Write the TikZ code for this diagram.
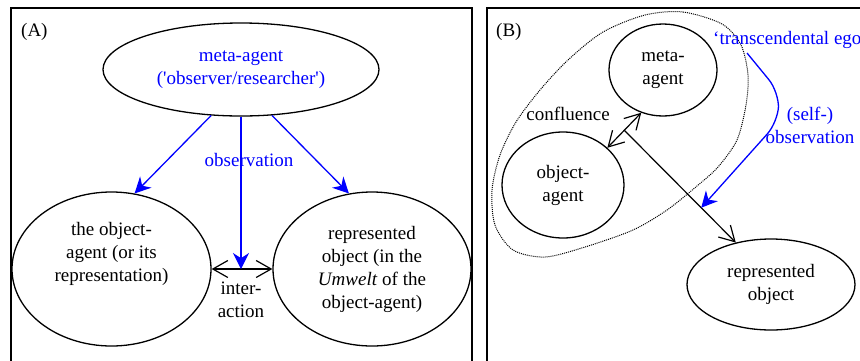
\documentclass[tikz,border=0pt]{standalone}
\usepackage{fontspec}
\setmainfont{Liberation Serif}
\usetikzlibrary{positioning,arrows.meta,shapes.geometric}

\begin{document}
\begin{tikzpicture}[x=1pt, y=-1pt, every node/.style={font=\fontsize{19}{23}\selectfont, align=center, inner sep=0pt},
  elipse/.style={draw, ellipse, line width=1.3pt},
  marco/.style={draw, line width=1.4pt},
  flecha/.style={-{Straight Barb[length=15pt,width=17pt]}, line width=1.2pt},
  doble/.style={{Straight Barb[length=15pt,width=17pt]}-{Straight Barb[length=15pt,width=17pt]}, line width=1.2pt},
  obs/.style={blue, line width=1.3pt, -{Stealth[length=16pt,width=16pt]}},
  borde/.style={line width=1pt, dash pattern=on 1pt off 1pt}]
\useasboundingbox (0,0) rectangle (860,360);
\clip (0,0) rectangle (860,360);
\draw[marco] (11,8) rectangle (472,375);
\draw[marco] (487,8) rectangle (880,375);
\node[anchor=west] (la) at (21,32) {(A)};
\node[anchor=west] (lb) at (496,32) {(B)};
\node[elipse, minimum width=276pt, minimum height=93pt, text=blue] (ma) at (241,69.5) {meta-agent\\(\textquotesingle observer/researcher\textquotesingle)};
\node[elipse, minimum width=199pt, minimum height=154pt] (oa) at (111.5,269) {the object-\\agent (or its\\representation)\\[12pt]\mbox{}};
\node[elipse, minimum width=198pt, minimum height=154pt] (ra) at (372,269) {represented\\object (in the\\\emph{Umwelt} of the\\object-agent)};
\node[text=blue] (obsa) at (249,160) {observation};
\node (ia) at (241,300) {inter-\\action};
\draw[doble] (oa.east) -- (ra.west) coordinate[pos=0.5] (ina);
\draw[obs] (ma.237) -- (oa.73); \draw[obs] (ma.south) -- (ma.south |- ina); \draw[obs] (ma.304) -- (ra.107);
\draw[borde] plot[smooth cycle] coordinates {(645,15) (683,12) (722,24) (741,45) (748,75) (746,105) (737,140) (718,167) (697,186) (667,210) (633,230) (585,247) (545,257) (513,250) (495,225) (492,190) (500,155) (516,122) (540,90) (568,60) (603,32)};
\node[elipse, minimum width=108pt, minimum height=92pt] (mb) at (663,70) {meta-\\agent};
\node[elipse, minimum width=122pt, minimum height=106pt] (ob) at (563,185) {object-\\agent};
\node[elipse, minimum width=168pt, minimum height=91pt] (rb) at (771,284.5) {represented\\object};
\node (cf) at (568,114) {confluence};
\node[anchor=base west, text=blue] (ego) at (713,44) {`transcendental ego};
\node[text=blue] (so) at (810,125) {(self-)\\observation};
\draw[doble] (ob.40) -- (mb.243) coordinate[pos=0.5] (conf);
\draw[flecha] (conf) -- (rb.130) coordinate[pos=0.69] (hit);
\coordinate (pie) at (747,53);
\draw[obs, rounded corners=16pt] (pie) -- (779,92) -- (778,122) -- (hit);
\end{tikzpicture}
\end{document}
